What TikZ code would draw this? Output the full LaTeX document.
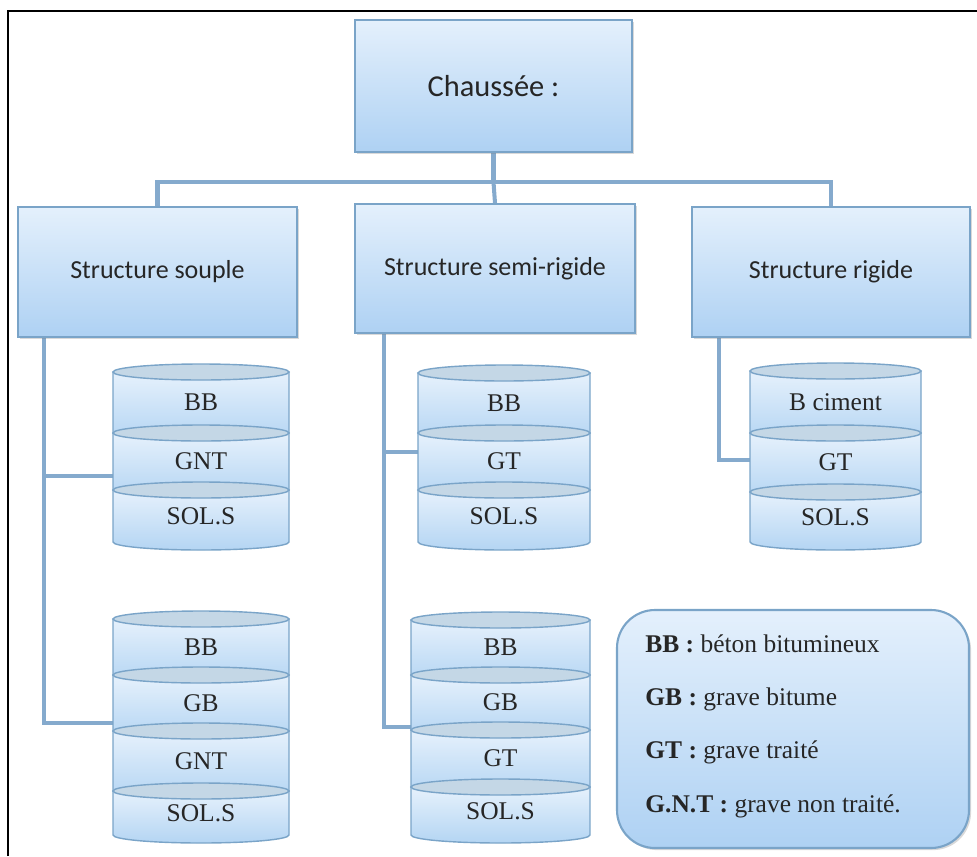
\documentclass[tikz,border=0pt]{standalone}
\usepackage{fontspec}
\setmainfont{Liberation Serif}
\newfontfamily\boxfont{Carlito}
\usetikzlibrary{shadows,backgrounds}

\definecolor{boxTop}{HTML}{E4F0FC}
\definecolor{boxBot}{HTML}{AED1F3}
\definecolor{boxLine}{HTML}{7AA4C8}
\definecolor{connCol}{HTML}{85AACD}
\definecolor{cylTop}{HTML}{E6F1FC}
\definecolor{cylBot}{HTML}{B4D5F3}
\definecolor{capFill}{HTML}{C4D7E6}
\definecolor{txt}{HTML}{262626}

\tikzset{
  catbox/.style={draw=boxLine, line width=1.2pt, top color=boxTop, bottom color=boxBot,
    inner sep=0pt, text=txt, font=\boxfont\fontsize{14.8}{18}\selectfont,
    drop shadow={opacity=0.3, shadow xshift=1.2pt, shadow yshift=-1.2pt}},
  conn/.style={draw=connCol, line width=2.3pt},
  layerbody/.style={draw=boxLine, line width=0.8pt, top color=cylTop, bottom color=cylBot},
  layercap/.style={draw=boxLine, line width=0.8pt, fill=capFill},
  layertext/.style={inner sep=0pt, text=txt, font=\rmfamily\fontsize{14.5}{17}\selectfont},
  legendtext/.style={anchor=west, inner sep=0pt, text=txt, font=\rmfamily\fontsize{14.5}{17}\selectfont},
}

% one slice of a layered cylinder: name, left x, right x, top y, bottom y, label
\newcommand\cyllayer[6]{%
  \pgfmathsetmacro\lyrcx{(#2+#3)/2}%
  \pgfmathsetmacro\lyrrx{(#3-#2)/2}%
  \pgfmathsetmacro\lyrcy{-(#4+#5)/2}%
  \draw[layerbody] (#2,-#4) -- (#2,-#5)
     arc[start angle=180, end angle=360, x radius=\lyrrx, y radius=8] -- (#3,-#4) -- cycle;
  \draw[layercap] (\lyrcx,-#4) ellipse[x radius=\lyrrx, y radius=8];
  \node[layertext] (#1) at (\lyrcx,\lyrcy) {#6};
}

\begin{document}
\begin{tikzpicture}[x=0.02cm, y=0.02cm]
\useasboundingbox (0,0) rectangle (977,-856);

% outer frame (left and top edges)
\draw[line width=1.7pt] (8,-856) -- (8,-11) -- (977,-11);

% category boxes
\node[catbox, minimum width=277*0.02cm, minimum height=132*0.02cm,
      font=\boxfont\fontsize{17.3}{20}\selectfont] (top) at (493.5,-86) {Chaussée :};
\node[catbox, minimum width=279*0.02cm, minimum height=130*0.02cm] (souple) at (157.5,-272) {Structure souple};
\node[catbox, minimum width=280*0.02cm, minimum height=129*0.02cm] (semi) at (495,-268.5) {Structure semi-rigide};
\node[catbox, minimum width=278*0.02cm, minimum height=130*0.02cm] (rigide) at (831,-272) {Structure rigide};

% flexible pavements
\cyllayer{sAbb}{113}{289}{372}{433}{BB}
\cyllayer{sAgnt}{113}{289}{433}{490}{GNT}
\cyllayer{sAsol}{113}{289}{490}{542}{SOL.S}

\cyllayer{sBbb}{113}{289}{619}{675}{BB}
\cyllayer{sBgb}{113}{289}{675}{731}{GB}
\cyllayer{sBgnt}{113}{289}{731}{791}{GNT}
\cyllayer{sBsol}{113}{289}{791}{835}{SOL.S}

% semi-rigid pavements
\cyllayer{mAbb}{418}{590}{373}{433}{BB}
\cyllayer{mAgt}{418}{590}{433}{490}{GT}
\cyllayer{mAsol}{418}{590}{490}{542}{SOL.S}

\cyllayer{mBbb}{411}{590}{620}{675}{BB}
\cyllayer{mBgb}{411}{590}{675}{730}{GB}
\cyllayer{mBgt}{411}{590}{730}{787}{GT}
\cyllayer{mBsol}{411}{590}{787}{835}{SOL.S}

% rigid pavement
\cyllayer{rbc}{750}{921}{371}{433}{B ciment}
\cyllayer{rgt}{750}{921}{433}{492}{GT}
\cyllayer{rsol}{750}{921}{492}{542}{SOL.S}

% legend
\node[draw=boxLine, line width=1.2pt, top color=boxTop, bottom color=boxBot,
      rounded corners=0.76cm, minimum width=352*0.02cm, minimum height=238*0.02cm,
      drop shadow={opacity=0.3, shadow xshift=1.2pt, shadow yshift=-1.2pt}]
      (legend) at (793,-729) {};
\node[legendtext] (lgBB)  at (645,-644) {\textbf{BB :} béton bitumineux};
\node[legendtext] (lgGB)  at (645,-699) {\textbf{GB :} grave bitume};
\node[legendtext] (lgGT)  at (645,-752) {\textbf{GT :} grave traité};
\node[legendtext] (lgGNT) at (645,-806) {\textbf{G.N.T :} grave non traité.};

% connectors
\coordinate (sAin) at (113,-476);
\coordinate (sBin) at (113,-723);
\coordinate (mAin) at (418,-452);
\coordinate (mBin) at (411,-727);
\coordinate (rin)  at (750,-460);
\begin{scope}[on background layer]
  \draw[conn] (top.south) -- ++(0,-29) coordinate (hub);
  \draw[conn] (souple.north) |- (hub) -| (rigide.north);
  \draw[conn] (hub) -- (semi.north);

  \path (souple.south west) ++(27,0) coordinate (sfoot);
  \draw[conn] (sfoot) |- (sBin);
  \draw[conn] (sfoot |- sAin) -- (sAin);

  \path (semi.south west) ++(30,0) coordinate (mfoot);
  \draw[conn] (mfoot) |- (mBin);
  \draw[conn] (mfoot |- mAin) -- (mAin);

  \path (rigide.south west) ++(28,0) coordinate (rfoot);
  \draw[conn] (rfoot) |- (rin);
\end{scope}
\end{tikzpicture}
\end{document}
